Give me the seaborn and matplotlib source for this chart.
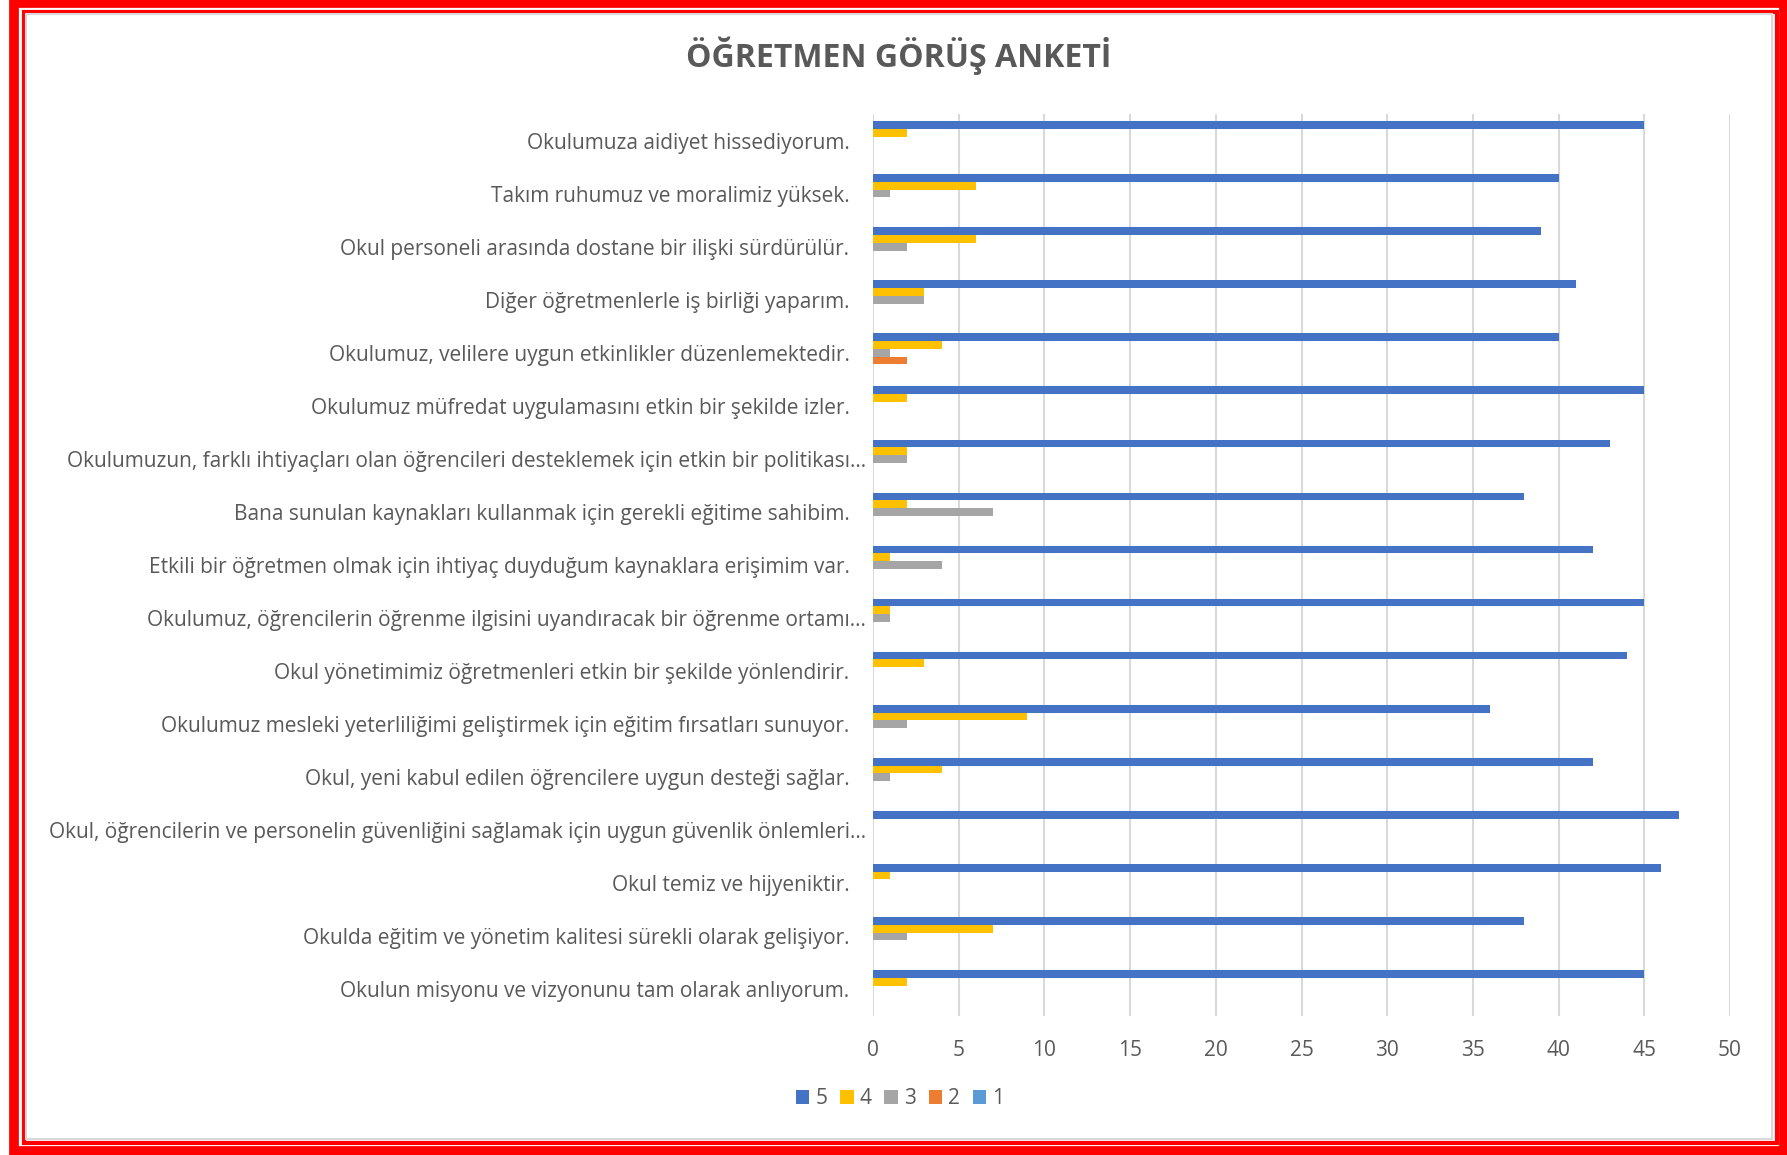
import pandas as pd
import seaborn as sns
import matplotlib.pyplot as plt
from matplotlib.patches import Rectangle

# Survey items, top to bottom
questions = [
    "Okulumuza aidiyet hissediyorum.",
    "Takım ruhumuz ve moralimiz yüksek.",
    "Okul personeli arasında dostane bir ilişki sürdürülür.",
    "Diğer öğretmenlerle iş birliği yaparım.",
    "Okulumuz, velilere uygun etkinlikler düzenlemektedir.",
    "Okulumuz müfredat uygulamasını etkin bir şekilde izler.",
    "Okulumuzun, farklı ihtiyaçları olan öğrencileri desteklemek için etkin bir politikası…",
    "Bana sunulan kaynakları kullanmak için gerekli eğitime sahibim.",
    "Etkili bir öğretmen olmak için ihtiyaç duyduğum kaynaklara erişimim var.",
    "Okulumuz, öğrencilerin öğrenme ilgisini uyandıracak bir öğrenme ortamı…",
    "Okul yönetimimiz öğretmenleri etkin bir şekilde yönlendirir.",
    "Okulumuz mesleki yeterliliğimi geliştirmek için eğitim fırsatları sunuyor.",
    "Okul, yeni kabul edilen öğrencilere uygun desteği sağlar.",
    "Okul, öğrencilerin ve personelin güvenliğini sağlamak için uygun güvenlik önlemleri…",
    "Okul temiz ve hijyeniktir.",
    "Okulda eğitim ve yönetim kalitesi sürekli olarak gelişiyor.",
    "Okulun misyonu ve vizyonunu tam olarak anlıyorum.",
]

# counts per answer level
score5 = [45, 40, 39, 41, 40, 45, 43, 38, 42, 45, 44, 36, 42, 47, 46, 38, 45]
score4 = [2, 6, 6, 3, 4, 2, 2, 2, 1, 1, 3, 9, 4, 0, 1, 7, 2]
score3 = [0, 1, 2, 3, 1, 0, 2, 7, 4, 1, 0, 2, 1, 0, 0, 2, 0]
score2 = [0, 0, 0, 0, 2, 0, 0, 0, 0, 0, 0, 0, 0, 0, 0, 0, 0]
score1 = [0, 0, 0, 0, 0, 0, 0, 0, 0, 0, 0, 0, 0, 0, 0, 0, 0]

levels = ["5", "4", "3", "2", "1"]
colors = ["#4472C4", "#FFC000", "#A5A5A5", "#ED7D31", "#5B9BD5"]
x_ticks = [0, 5, 10, 15, 20, 25, 30, 35, 40, 45, 50]


def build_frame():
    rows = []
    for lvl, vals in zip(levels, [score5, score4, score3, score2, score1]):
        for q, v in zip(questions, vals):
            rows.append({"Soru": q, "Puan": lvl, "Sayi": v})
    return pd.DataFrame(rows)


df = build_frame()

sns.set_theme(style="white")
plt.rcParams["font.family"] = ["Open Sans", "DejaVu Sans"]
text_col = "#595959"

fig = plt.figure(figsize=(17.87, 11.55), dpi=100)
ax = fig.add_axes([873 / 1787, 1 - 1016 / 1155, 857 / 1787, 902 / 1155])

sns.barplot(
    data=df, y="Soru", x="Sayi", hue="Puan",
    order=questions, hue_order=levels,
    palette=dict(zip(levels, colors)), saturation=1,
    width=0.73, linewidth=0, orient="h", ax=ax,
)

ax.set_xlim(0, 50)
ax.set_ylim(len(questions) - 0.5, -0.5)
ax.set_xticks(x_ticks)
ax.set_xlabel("")
ax.set_ylabel("")
for s in ax.spines.values():
    s.set_visible(False)
ax.grid(axis="x", color="#D9D9D9", linewidth=1.5)
ax.set_axisbelow(True)
ax.tick_params(axis="x", length=0, pad=17, labelsize=15, labelcolor=text_col)
ax.tick_params(axis="y", length=0, pad=17, labelsize=15, labelcolor=text_col)
for i, t in enumerate(ax.yaxis.get_major_ticks()):
    if questions[i].endswith("…"):
        t.set_pad(5)

ax.legend(
    loc="center left", bbox_to_anchor=(777 / 1787, 1 - 1099 / 1155),
    bbox_transform=fig.transFigure, ncol=5, frameon=False,
    fontsize=15, labelcolor=text_col, handlelength=0.65, handleheight=0.65,
    handletextpad=0.3, columnspacing=0.6,
)

fig.text(899 / 1787, 1 - 56 / 1155, "ÖĞRETMEN GÖRÜŞ ANKETİ", ha="center",
         va="center", fontsize=23, fontweight="bold", color=text_col)

# frame lines around the chart
W, H = 1787, 1155
def frame(x0, y0, x1, y1, lw, col):
    fig.patches.append(Rectangle((x0 / W, 1 - y1 / H), (x1 - x0) / W, (y1 - y0) / H,
                                 transform=fig.transFigure, fill=False,
                                 edgecolor=col, linewidth=lw))

frame(14.5, 3, 1784, 1151, 7, "#FF0000")
frame(23.5, 11.5, 1777, 1142.5, 3, "#FF0000")
frame(26, 14, 1772, 1138.5, 1.5, "#D9D9D9")

fig.savefig("out.png", dpi=100)
